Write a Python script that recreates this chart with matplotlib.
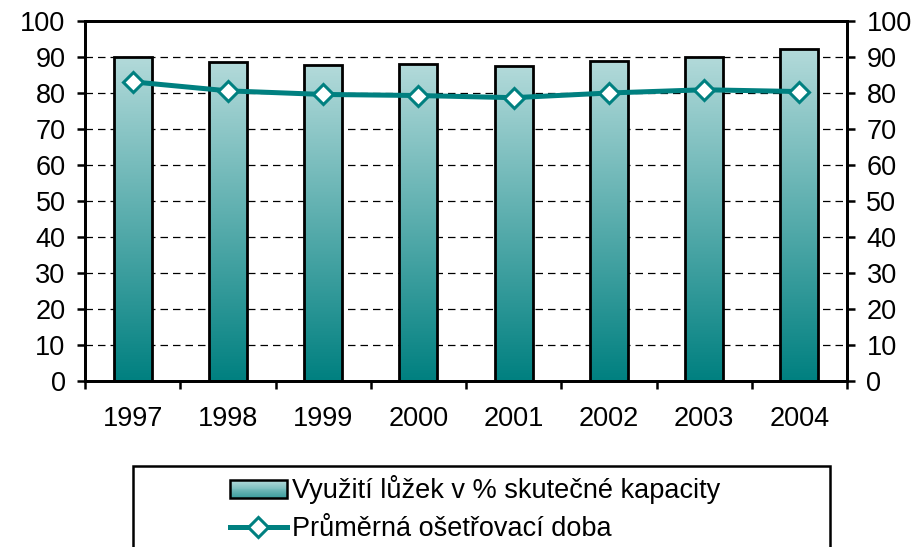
import numpy as np
import matplotlib
matplotlib.use("Agg")
import matplotlib.pyplot as plt
from matplotlib.patches import Rectangle
from matplotlib.lines import Line2D
from matplotlib.legend_handler import HandlerBase
from matplotlib.colors import LinearSegmentedColormap

years = ["1997", "1998", "1999", "2000", "2001", "2002", "2003", "2004"]
occupancy = [90.1, 88.6, 87.7, 88.0, 87.6, 88.9, 90.1, 92.1]
avg_stay = [83.1, 80.6, 79.6, 79.3, 78.7, 80.0, 80.9, 80.4]
bar_label = "Využití lůžek v % skutečné kapacity"
line_label = "Průměrná ošetřovací doba"
yticks = [0, 10, 20, 30, 40, 50, 60, 70, 80, 90, 100]

plt.rcParams['font.family'] = ['Liberation Sans', 'DejaVu Sans']
FS = 19.5
teal = "#008080"
cmap = LinearSegmentedColormap.from_list("g", ["#008080", "#b3dada"])

fig = plt.figure(figsize=(9.14, 5.47), dpi=100)
ax = fig.add_axes([85/914, 1-381/547, (847-85)/914, 360/547])

x = np.arange(len(years))
bars = ax.bar(x, occupancy, width=0.4, facecolor="none", edgecolor="black", linewidth=2.0, zorder=3)
grad = np.linspace(0, 1, 256).reshape(-1, 1)
for b in bars:
    bx, by = b.get_x(), b.get_y()
    w, h = b.get_width(), b.get_height()
    im = ax.imshow(grad, cmap=cmap, origin="lower", extent=[bx, bx + w, by, by + h],
                   aspect="auto", zorder=2)
    im.set_clip_path(b)

ax.plot(x, avg_stay, color=teal, linewidth=3.6, marker="D", markersize=10,
        markerfacecolor="white", markeredgecolor=teal, markeredgewidth=2.2, zorder=5)

ax.set_xlim(-0.5, len(years) - 0.5)
ax.set_ylim(0, 100)
ax.set_yticks(yticks)
ax.yaxis.grid(True, linestyle=(0, (6, 4)), color="black", linewidth=0.9, zorder=1)
ax.set_axisbelow(True)
ax.set_xticks(x)
ax.set_xticklabels(years, fontsize=FS)
ax.set_xticks(np.arange(-0.5, len(years)), minor=True)
ax.tick_params(axis="x", which="major", length=0, pad=18)
ax.tick_params(axis="x", which="minor", length=6, width=1.8, direction="out")
ax.tick_params(axis="y", labelsize=FS, length=6, width=1.8, direction="out", pad=8)
for s in ax.spines.values():
    s.set_linewidth(2.0)

ax2 = ax.twinx()
ax2.set_ylim(0, 100)
ax2.set_yticks(yticks)
ax2.tick_params(axis="y", labelsize=FS, length=6, width=1.8, direction="out", pad=8)
for s in ax2.spines.values():
    s.set_linewidth(2.0)

# Legend frame
fig.patches.append(Rectangle((133/914, -0.05), (830-133)/914, 1-466/547+0.05,
                             transform=fig.transFigure, facecolor="white",
                             edgecolor="black", linewidth=1.8))

class GradHandler(HandlerBase):
    def create_artists(self, legend, orig_handle, xdescent, ydescent, width, height, fontsize, trans):
        arts = []
        n = 20
        for i in range(n):
            r = Rectangle((xdescent, ydescent + height*i/n), width, height/n,
                          facecolor=cmap(0.3 + 0.7*i/(n-1)), edgecolor="none", transform=trans)
            arts.append(r)
        arts.append(Rectangle((xdescent, ydescent), width, height, facecolor="none",
                              edgecolor="black", linewidth=1.8, transform=trans))
        return arts

bar_handle = Rectangle((0, 0), 1, 1)
line_handle = Line2D([], [], color=teal, linewidth=3.6, marker="D", markersize=10,
                     markerfacecolor="white", markeredgecolor=teal, markeredgewidth=2.2)
leg = fig.legend([bar_handle, line_handle], [bar_label, line_label],
                 handler_map={Rectangle: GradHandler()},
                 loc="upper left", bbox_to_anchor=(230/914, 1-475/547),
                 frameon=False, fontsize=FS, handlelength=2.1, handletextpad=0.18,
                 handleheight=0.65, labelspacing=0.45, borderpad=0, borderaxespad=0)

fig.savefig("out.png", dpi=100)
